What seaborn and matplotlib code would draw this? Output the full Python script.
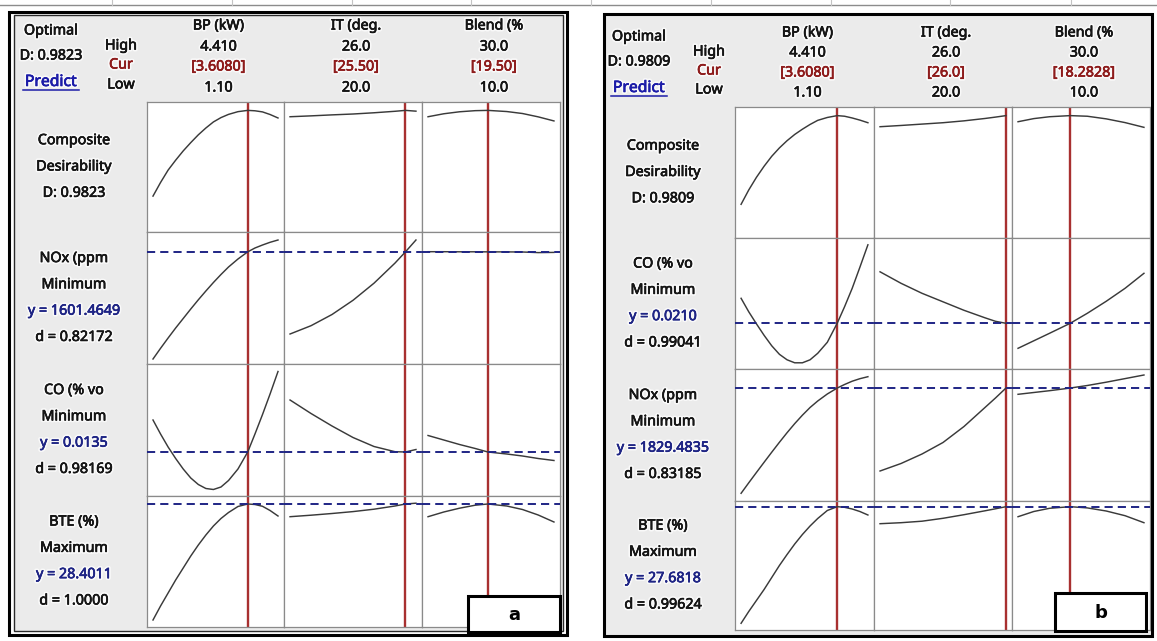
import matplotlib
matplotlib.use("Agg")
import matplotlib.pyplot as plt
import matplotlib.patheffects as pe
from matplotlib.patches import Rectangle
import seaborn as sns

W, H = 1157, 641

# ---------------- factors ----------------
FACTOR_NAMES = ["BP (kW)", "IT (deg.", "Blend (%"]
FACTOR_LOW = [1.10, 20.0, 10.0]
FACTOR_HIGH = [4.41, 26.0, 30.0]
FACTOR_LOW_LABELS = ["1.10", "20.0", "10.0"]
FACTOR_HIGH_LABELS = ["4.410", "26.0", "30.0"]

BP_X = [1.10, 1.30, 1.50, 1.70, 1.90, 2.10, 2.30, 2.50, 2.70, 2.90, 3.10, 3.35, 3.608, 3.80, 4.00, 4.20, 4.41]
IT_X = [20.0, 21.0, 22.0, 23.0, 24.0, 25.0, 25.5, 26.0]
BLEND_X_A = [10.0, 12.5, 15.0, 17.5, 19.5, 22.5, 25.0, 27.5, 30.0]
BLEND_X_B = [10.0, 12.5, 15.0, 18.2828, 21.0, 24.0, 27.0, 30.0]

# ---------------- panel a ----------------
A_CUR = [3.6080, 25.50, 19.50]
A_CUR_LABELS = ["[3.6080]", "[25.50]", "[19.50]"]
A_D_TOTAL = "0.9823"
A_RESPONSES = ["NOx (ppm", "CO (% vo", "BTE (%)"]
A_GOALS = ["Minimum", "Minimum", "Maximum"]
A_Y = [1601.4649, 0.0135, 28.4011]
A_Y_LABELS = ["1601.4649", "0.0135", "28.4011"]
A_SMALL_D = ["0.82172", "0.98169", "1.0000"]
A_YLIM = [(0.0, 1.05), (480.0, 1800.0), (0.0047, 0.0311), (16.1, 29.2)]

A_COMP_BP = [0.29, 0.40, 0.50, 0.58, 0.655, 0.722, 0.785, 0.840, 0.889, 0.924, 0.950, 0.972,
             0.9823, 0.979, 0.970, 0.949, 0.921]
A_COMP_IT = [0.931, 0.938, 0.946, 0.953, 0.963, 0.975, 0.9823, 0.976]
A_COMP_BLEND = [0.931, 0.955, 0.971, 0.980, 0.9823, 0.973, 0.957, 0.930, 0.897]
A_NOX_BP = [530, 637, 740, 840, 935, 1030, 1122, 1210, 1295, 1375, 1450, 1530, 1601.46,
            1640, 1670, 1697, 1720]
A_NOX_IT = [780, 863, 975, 1117, 1288, 1489, 1601.46, 1720]
A_NOX_BLEND = [1603, 1603, 1602, 1602, 1601.46, 1601, 1600, 1594, 1596]
A_CO_BP = [0.0199, 0.0171, 0.0145, 0.0122, 0.0101, 0.0083, 0.0070, 0.0062, 0.0060, 0.0065,
           0.0078, 0.0101, 0.0135, 0.0171, 0.0210, 0.0251, 0.0296]
A_CO_IT = [0.0239, 0.0212, 0.0187, 0.0164, 0.0146, 0.01356, 0.0135, 0.0140]
A_CO_BLEND = [0.0168, 0.0159, 0.0150, 0.0142, 0.0135, 0.0131, 0.0127, 0.0122, 0.0118]
A_BTE_BP = [16.8, 18.2, 19.5, 20.8, 22.0, 23.2, 24.3, 25.3, 26.2, 26.95, 27.55, 28.15, 28.4011,
            28.35, 28.17, 27.75, 27.2]
A_BTE_IT = [27.13, 27.28, 27.45, 27.64, 27.88, 28.2, 28.4011, 28.48]
A_BTE_BLEND = [27.13, 27.6, 27.98, 28.28, 28.4011, 28.2, 27.85, 27.3, 26.6]

# ---------------- panel b ----------------
B_CUR = [3.6080, 26.0, 18.2828]
B_CUR_LABELS = ["[3.6080]", "[26.0]", "[18.2828]"]
B_D_TOTAL = "0.9809"
B_RESPONSES = ["CO (% vo", "NOx (ppm", "BTE (%)"]
B_GOALS = ["Minimum", "Minimum", "Maximum"]
B_Y = [0.0210, 1829.4835, 27.6818]
B_Y_LABELS = ["0.0210", "1829.4835", "27.6818"]
B_SMALL_D = ["0.99041", "0.83185", "0.99624"]
B_YLIM = [(0.0, 1.05), (0.01186, 0.03806), (700.0, 2020.0), (15.35, 28.25)]

B_COMP_BP = [0.27, 0.385, 0.486, 0.575, 0.655, 0.722, 0.78, 0.830, 0.872, 0.910, 0.943, 0.966,
             0.9809, 0.976, 0.962, 0.945, 0.924]
B_COMP_IT = [0.892, 0.902, 0.913, 0.924, 0.939, 0.958, 0.969, 0.9809]
B_COMP_BLEND = [0.932, 0.957, 0.972, 0.9809, 0.976, 0.955, 0.925, 0.887]
B_CO_BP = [0.0260, 0.0233, 0.0209, 0.0186, 0.0165, 0.0148, 0.0137, 0.0131, 0.0131, 0.0137,
           0.0150, 0.0172, 0.0210, 0.0243, 0.0280, 0.0322, 0.0367]
B_CO_IT = [0.0313, 0.0290, 0.0270, 0.0253, 0.0236, 0.0221, 0.0214, 0.0210]
B_CO_BLEND = [0.0160, 0.0175, 0.0190, 0.0210, 0.0230, 0.0254, 0.0280, 0.0310]
B_NOX_BP = [777, 882, 985, 1087, 1188, 1287, 1383, 1474, 1558, 1635, 1700, 1770, 1829.48,
            1865, 1898, 1923, 1943]
B_NOX_IT = [1000, 1075, 1170, 1285, 1445, 1635, 1730, 1829.48]
B_NOX_BLEND = [1767, 1785, 1803, 1829.48, 1855, 1888, 1924, 1960]
B_BTE_BP = [16.02, 17.2, 18.3, 19.4, 20.6, 21.8, 22.9, 23.95, 24.9, 25.75, 26.5, 27.3, 27.6818,
            27.62, 27.45, 27.2, 26.85]
B_BTE_IT = [25.98, 26.08, 26.23, 26.52, 26.88, 27.27, 27.47, 27.6818]
B_BTE_BLEND = [26.68, 27.2, 27.52, 27.6818, 27.56, 27.25, 26.78, 26.08]

# ---------------- styling ----------------
plt.rcParams['font.family'] = ['Noto Sans', 'DejaVu Sans']
INK = "#161616"
NAVY = "#1f2585"
DARKRED = "#8e1c1c"
RED = "#a83030"
CURVE = "#3a3a3a"
GRID = "#8a8a8a"
PANEL_BG = "#ebebeb"
FS = 10.3


def effects(color):
    return [pe.withStroke(linewidth=2.8, foreground="white", alpha=0.75),
            pe.withStroke(linewidth=0.45, foreground=color)]


fig = plt.figure(figsize=(W / 100, H / 100), dpi=100)
fig.patch.set_facecolor("white")
bg = fig.add_axes([0, 0, 1, 1], zorder=0)
bg.set_xlim(0, W)
bg.set_ylim(H, 0)
bg.axis("off")
top = fig.add_axes([0, 0, 1, 1], zorder=10)
top.set_xlim(0, W)
top.set_ylim(H, 0)
top.axis("off")
top.patch.set_alpha(0)


def px_rect(x0, y0, x1, y1):
    return [x0 / W, 1 - y1 / H, (x1 - x0) / W, (y1 - y0) / H]


def txt(x, y, s, color=INK, size=FS):
    bg.text(x, y, s, ha="center", va="center", color=color, fontsize=size,
            path_effects=effects(color), zorder=5)


# spreadsheet lines at the very top
bg.plot([0, W], [5, 5], color="#8c8c8c", lw=1.0)
for xv in [112, 232, 352, 471, 591, 711, 831, 950, 1071]:
    bg.plot([xv, xv], [0, 5], color="#c4c4c4", lw=0.8)


def draw_panel(interior, outer, inner, col_edges, row_edges, opt_xy, hcl_x, hdr_y,
               label_x, cur, cur_labels, d_total, responses, goals, y_labels, small_d,
               ylims, yref, curves, x_grids, box, letter):
    bg.add_patch(Rectangle((interior[0], interior[1]), interior[2] - interior[0],
                           interior[3] - interior[1], fc=PANEL_BG, ec="none", zorder=1))
    # header text
    ox, oy = opt_xy
    txt(ox, oy, "Optimal")
    txt(ox, oy + 25, "D: " + d_total)
    txt(ox, oy + 51, "Predict", color="#1c1ca8", size=FS + 1.0)
    bg.plot([ox - 28, ox + 28], [oy + 59, oy + 59], color="#1c1ca8", lw=1.1, zorder=5)
    txt(hcl_x, hdr_y[1] - 1, "High")
    txt(hcl_x, hdr_y[2] - 2, "Cur", color=DARKRED)
    txt(hcl_x, hdr_y[3] - 3, "Low")
    for c in range(3):
        cx = (col_edges[c] + col_edges[c + 1]) / 2 + 3
        txt(cx, hdr_y[0], FACTOR_NAMES[c])
        txt(cx, hdr_y[1], FACTOR_HIGH_LABELS[c])
        txt(cx, hdr_y[2], cur_labels[c], color=DARKRED)
        txt(cx, hdr_y[3], FACTOR_LOW_LABELS[c])
    # row labels
    for r in range(4):
        rc = (row_edges[r] + row_edges[r + 1]) / 2
        if r == 0:
            lines = [("Composite", INK), ("Desirability", INK), ("D: " + d_total, INK)]
        else:
            lines = [(responses[r - 1], INK), (goals[r - 1], INK),
                     ("y = " + y_labels[r - 1], NAVY), ("d = " + small_d[r - 1], INK)]
        n = len(lines)
        for i, (s, col) in enumerate(lines):
            txt(label_x, rc + (i - (n - 1) / 2) * 26.3, s, color=col)
    # cells
    for r in range(4):
        for c in range(3):
            ax = fig.add_axes(px_rect(col_edges[c], row_edges[r], col_edges[c + 1], row_edges[r + 1]),
                              zorder=2)
            ax.set_facecolor("white")
            lo, hi = FACTOR_LOW[c], FACTOR_HIGH[c]
            m = 0.048 * (hi - lo)
            ax.axvline(cur[c], color=RED, lw=1.7, zorder=2)
            if r > 0:
                ax.axhline(yref[r - 1], color=NAVY, lw=1.4, ls=(0, (4.2, 2.6)), zorder=4)
            sns.lineplot(x=x_grids[c], y=curves[r][c], ax=ax, color=CURVE, linewidth=1.05,
                         sort=False, zorder=3)
            ax.set_xlim(lo - m, hi + m)
            ax.set_ylim(*ylims[r])
            ax.set_xticks([])
            ax.set_yticks([])
            ax.set_xlabel("")
            ax.set_ylabel("")
            for s in ax.spines.values():
                s.set_color(GRID)
                s.set_linewidth(0.9)
    # frames
    top.add_patch(Rectangle((outer[0], outer[1]), outer[2] - outer[0], outer[3] - outer[1],
                            fill=False, ec="black", lw=2.2))
    if inner is not None:
        top.add_patch(Rectangle((inner[0], inner[1]), inner[2] - inner[0], inner[3] - inner[1],
                                fill=False, ec="#2a2a2a", lw=1.0))
    # letter box
    top.add_patch(Rectangle((box[0], box[1]), box[2] - box[0], box[3] - box[1],
                            fc="white", ec="black", lw=2.2))
    top.text((box[0] + box[2]) / 2, (box[1] + box[3]) / 2 + 1, letter, ha="center", va="center",
             fontsize=13, fontweight="bold", color="black", family="DejaVu Sans")


draw_panel(interior=(14, 15, 563, 632), outer=(8.5, 11.8, 567, 635),
           inner=(13.5, 14.5, 562.7, 631),
           col_edges=[147, 284, 422, 560], row_edges=[102, 232, 364, 496, 627],
           opt_xy=(51, 31), hcl_x=121, hdr_y=[26, 47, 67, 88], label_x=74,
           cur=A_CUR, cur_labels=A_CUR_LABELS, d_total=A_D_TOTAL, responses=A_RESPONSES,
           goals=A_GOALS, y_labels=A_Y_LABELS, small_d=A_SMALL_D, ylims=A_YLIM, yref=A_Y,
           curves=[[A_COMP_BP, A_COMP_IT, A_COMP_BLEND],
                   [A_NOX_BP, A_NOX_IT, A_NOX_BLEND],
                   [A_CO_BP, A_CO_IT, A_CO_BLEND],
                   [A_BTE_BP, A_BTE_IT, A_BTE_BLEND]],
           x_grids=[BP_X, IT_X, BLEND_X_A], box=(468, 596, 560, 632), letter="a")

draw_panel(interior=(605, 15, 1151, 635), outer=(604, 13.5, 1152, 636), inner=None,
           col_edges=[735, 874, 1012, 1150], row_edges=[107, 238, 369, 501, 630],
           opt_xy=(639, 37), hcl_x=709, hdr_y=[33, 53, 73, 93], label_x=663,
           cur=B_CUR, cur_labels=B_CUR_LABELS, d_total=B_D_TOTAL, responses=B_RESPONSES,
           goals=B_GOALS, y_labels=B_Y_LABELS, small_d=B_SMALL_D, ylims=B_YLIM, yref=B_Y,
           curves=[[B_COMP_BP, B_COMP_IT, B_COMP_BLEND],
                   [B_CO_BP, B_CO_IT, B_CO_BLEND],
                   [B_NOX_BP, B_NOX_IT, B_NOX_BLEND],
                   [B_BTE_BP, B_BTE_IT, B_BTE_BLEND]],
           x_grids=[BP_X, IT_X, BLEND_X_B], box=(1055, 593, 1146, 631), letter="b")

fig.savefig("out.png", dpi=100)
